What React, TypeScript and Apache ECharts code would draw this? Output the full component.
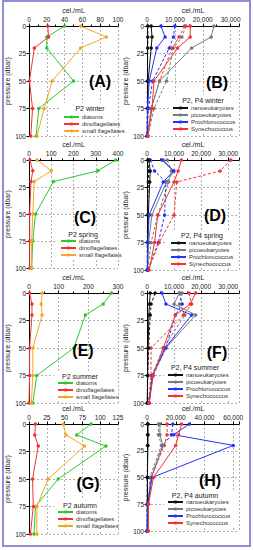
import React, { useEffect, useRef } from 'react';
import * as echarts from 'echarts';

// depth levels (dbar)
const depths = [0, 10, 20, 50, 75, 100];

// ---- Panel A: P2 winter (cel./mL)
const aDiatoms = [40, 20, 20, 50, 11, 8];
const aDinoflagellates = [21, 22, 6, 0.5, 4, 2];
const aSmallFlagellates = [58, 87, 58, 26, 17, 9];
// ---- Panel C: P2 spring
const cDiatoms = [390, 310, 110, 29, 17, 12];
const cDinoflagellates = [4, 17, 9, 3, 3, 3];
const cSmallFlagellates = [36, 100, 23, 17, 12, 12];
// ---- Panel E: P2 summer
const eDiatoms = [278, 250, 190, 151, 26, 13];
const eDinoflagellates = [2, 10, 10, 2, 2, 0];
const eSmallFlagellates = [44, 41, 44, 13, 13, 8];
// ---- Panel G: P2 autumn
const gDiatoms = [87, 67, 108, 41, 9, 7];
const gDinoflagellates = [9, 8, 13, 5, 6, 2];
const gSmallFlagellates = [48, 52, 78, 27, 11, 11];

// ---- Panel B: P2 (solid), P4 (dashed) winter
const bNanoP2 = [1500, 1800, 1500, 400, 200, 100];
const bNanoP4 = [300, 300, 250, 150, 100, 50];
const bPicoP2 = [24000, 23000, 16000, 4500, 1500, 300];
const bPicoP4 = [14000, 12500, 9500, 7000, 2500, 300];
const bProP2 = [5000, 6500, 3500, 800, 200, 100];
const bProP4 = [10000, 9500, 8000, 2000, 500, 100];
const bSynP2 = [15500, 15500, 11000, 2500, 1800, 300];
const bSynP4 = [13500, 11500, 9000, 4500, 1500, 200];
// ---- Panel D: spring
const dNanoP2 = [700, 1200, 1000, 500, 300, 200];
const dNanoP4 = [300, 600, 500, 200, 100, 100];
const dPicoP2 = [6000, 10000, 7200, 1800, 600, 200];
const dPicoP4 = [7500, 9000, 8000, 4000, 1500, 300];
const dProP2 = [5500, 9800, 6000, 800, 300, 100];
const dProP4 = [1200, 2800, 7000, 6500, 4200, 300];
const dSynP2 = [12700, 11500, 10000, 4000, 2800, 800];
const dSynP4 = [31000, 27000, 11000, 10000, 4500, 500];
// ---- Panel F: summer
const fNanoP2 = [1200, 900, 700, 400, 200, 100];
const fNanoP4 = [3000, 1500, 1200, 600, 300, 100];
const fPicoP2 = [12000, 10000, 18000, 7000, 2000, 800];
const fPicoP4 = [13000, 12000, 14000, 6000, 1800, 600];
const fProP2 = [5500, 7000, 16500, 6700, 2000, 800];
const fProP4 = [12000, 13000, 10500, 7000, 2200, 600];
const fSynP2 = [18000, 16000, 10500, 6000, 2300, 800];
const fSynP4 = [15500, 16500, 13500, 1500, 1500, 500];
// ---- Panel H: autumn
const hNanoP2 = [700, 700, 600, 300, 200, 100];
const hNanoP4 = [400, 400, 400, 200, 100, 100];
const hPicoP2 = [9000, 9000, 11000, 3000, 1000, 500];
const hPicoP4 = [8000, 8000, 10000, 2000, 800, 400];
const hProP2 = [29500, 18500, 60000, 3500, 500, 200];
const hProP4 = [18000, 17000, 11000, 3000, 500, 200];
const hSynP2 = [24000, 22000, 20000, 4500, 1000, 1000];
const hSynP4 = [14000, 14000, 12000, 3000, 800, 500];

const leftNames = ['diatoms', 'dinoflagellates', 'small flagellates'];
const rightNames = ['nanoeukaryotes', 'picoeukaryotes', 'Prochlorococcus', 'Synechococcus'];

const GREEN = '#2ec82e';
const RED = '#f43232';
const ORANGE = '#f5a623';
const BLACK = '#111111';
const GREY = '#7a7a7a';
const BLUE = '#2233ff';

const FONT = '"Liberation Sans", Arial, sans-serif';

type LeftPanel = {
  label: string; title: string; max: number; interval: number;
  vals: number[][];
};
type RightPanel = {
  label: string; title: string; max: number; interval: number;
  p2: number[][]; p4: number[][];
};

const leftPanels: LeftPanel[] = [
  { label: '(A)', title: 'P2 winter', max: 100, interval: 20, vals: [aDiatoms, aDinoflagellates, aSmallFlagellates] },
  { label: '(C)', title: 'P2 spring', max: 400, interval: 100, vals: [cDiatoms, cDinoflagellates, cSmallFlagellates] },
  { label: '(E)', title: 'P2 summer', max: 300, interval: 100, vals: [eDiatoms, eDinoflagellates, eSmallFlagellates] },
  { label: '(G)', title: 'P2 autumn', max: 125, interval: 25, vals: [gDiatoms, gDinoflagellates, gSmallFlagellates] },
];
const rightPanels: RightPanel[] = [
  { label: '(B)', title: 'P2, P4 winter', max: 33000, interval: 10000,
    p2: [bNanoP2, bPicoP2, bProP2, bSynP2], p4: [bNanoP4, bPicoP4, bProP4, bSynP4] },
  { label: '(D)', title: 'P2, P4 spring', max: 34000, interval: 10000,
    p2: [dNanoP2, dPicoP2, dProP2, dSynP2], p4: [dNanoP4, dPicoP4, dProP4, dSynP4] },
  { label: '(F)', title: 'P2, P4 summer', max: 34000, interval: 10000,
    p2: [fNanoP2, fPicoP2, fProP2, fSynP2], p4: [fNanoP4, fPicoP4, fProP4, fSynP4] },
  { label: '(H)', title: 'P2, P4 autumn', max: 64000, interval: 20000,
    p2: [hNanoP2, hPicoP2, hProP2, hSynP2], p4: [hNanoP4, hPicoP4, hProP4, hSynP4] },
];

const leftColors = [GREEN, RED, ORANGE];
const rightColors = [BLACK, GREY, BLUE, RED];

// layout
const rowTops = [26, 160, 293, 424];
const rowHeights = [110, 108, 110, 110];
const rightRowHeights = [110, 110, 110, 107];
const LEFT_X = 29, LEFT_W = 89;
const RIGHT_X = 147, RIGHT_W = 92;

const labelPos = [
  [100, 81], [217, 82],
  [85, 217], [215, 215],
  [83, 350], [217, 352],
  [88, 483], [210, 480],
];
// legend: [left, firstItemCenterY, titleCenterX, titleCenterY]
const legendPos = [
  [63, 117, 90, 108], [172, 108, 203, 100],
  [60, 241, 83, 234], [170, 243, 202, 235],
  [57, 383, 80, 376], [167, 375, 195, 367],
  [57, 512, 80, 505], [167, 502, 195, 495],
];

function fmt(interval: number) {
  return (v: number) => (v % interval === 0 ? v.toLocaleString('en-US') : '');
}

function buildOption() {
  const grid: any[] = [];
  const xAxis: any[] = [];
  const yAxis: any[] = [];
  const series: any[] = [];
  const legend: any[] = [];
  const graphic: any[] = [];

  const axisCommonX = (max: number, interval: number, gi: number) => ({
    gridIndex: gi, type: 'value', position: 'top', min: 0, max, interval,
    name: 'cel./mL', nameLocation: 'middle', nameGap: 12,
    nameTextStyle: { fontSize: 7, color: '#222', fontFamily: FONT },
    axisLine: { show: true, onZero: false, lineStyle: { color: '#000', width: 1 } },
    axisTick: { show: true, length: 2.5, lineStyle: { color: '#000' } },
    minorTick: { show: true, splitNumber: 2, length: 1.5, lineStyle: { color: '#000' } },
    axisLabel: { fontSize: 6.5, color: '#222', margin: 3, formatter: fmt(interval), fontFamily: FONT },
    splitLine: { show: true, lineStyle: { color: '#9a9a9a', type: [2, 2], width: 0.8 } },
  });
  const axisCommonY = (gi: number) => ({
    gridIndex: gi, type: 'value', inverse: true, min: 0, max: 100, interval: 25,
    name: 'pressure (dbar)', nameLocation: 'middle', nameGap: 15,
    nameTextStyle: { fontSize: 7, color: '#222', fontFamily: FONT },
    axisLine: { show: true, onZero: false, lineStyle: { color: '#000', width: 1 } },
    axisTick: { show: true, length: 2.5, lineStyle: { color: '#000' } },
    axisLabel: { fontSize: 6.5, color: '#222', margin: 3, fontFamily: FONT },
    splitLine: { show: true, lineStyle: { color: '#9a9a9a', type: [2, 2], width: 0.8 } },
  });

  const addLegend = (idx: number, names: string[], gridRight: number, lastOffset: number) => {
    const [lx, cy, tx, ty] = legendPos[idx];
    graphic.push({
      type: 'rect', z: 1,
      shape: { x: lx - 3, y: ty - 5, width: gridRight - (lx - 3), height: cy + lastOffset + 4 - (ty - 5) },
      style: { fill: '#ffffff' },
    });
    graphic.push({
      type: 'text', z: 10, x: tx, y: ty,
      style: { text: idx % 2 === 0 ? leftPanels[idx >> 1].title : rightPanels[idx >> 1].title,
        fontSize: 7, fontFamily: FONT, fill: '#222',
        align: 'center', verticalAlign: 'middle', textAlign: 'center', textVerticalAlign: 'middle' },
    });
    legend.push({
      data: names, left: lx, top: cy - 3.5, orient: 'vertical', padding: 0,
      itemWidth: 15, itemHeight: 4, itemGap: 0, selectedMode: false,
      textStyle: { fontSize: 6, color: '#333', lineHeight: 7, fontFamily: FONT, padding: [0, 0, 0, -2] },
    });
  };

  let gi = 0;
  for (let r = 0; r < 4; r++) {
    // left panel
    const lp = leftPanels[r];
    grid.push({ left: LEFT_X, top: rowTops[r], width: LEFT_W, height: rowHeights[r] });
    xAxis.push(axisCommonX(lp.max, lp.interval, gi));
    yAxis.push(axisCommonY(gi));
    lp.vals.forEach((vals, k) => {
      series.push({
        type: 'line', name: leftNames[k], xAxisIndex: gi, yAxisIndex: gi,
        data: vals.map((v, i) => [v, depths[i]]),
        symbol: 'circle', symbolSize: 3.5, z: 3,
        lineStyle: { color: leftColors[k], width: 1 },
        itemStyle: { color: leftColors[k] },
      });
    });
    addLegend(r * 2, leftNames, LEFT_X + LEFT_W, 14);
    graphic.push({
      type: 'text', z: 10, x: labelPos[r * 2][0], y: labelPos[r * 2][1],
      style: { text: lp.label, fontSize: 16, fontWeight: 'bold', fontFamily: FONT, fill: '#000',
        align: 'center', verticalAlign: 'middle', textAlign: 'center', textVerticalAlign: 'middle' },
    });
    gi++;

    // right panel
    const rp = rightPanels[r];
    grid.push({ left: RIGHT_X, top: rowTops[r], width: RIGHT_W, height: rightRowHeights[r] });
    xAxis.push(axisCommonX(rp.max, rp.interval, gi));
    yAxis.push(axisCommonY(gi));
    rp.p4.forEach((vals, k) => {
      series.push({
        type: 'line', name: rightNames[k] + ' P4', xAxisIndex: gi, yAxisIndex: gi,
        data: vals.map((v, i) => [v, depths[i]]),
        symbol: 'circle', symbolSize: 3.5, z: 3,
        lineStyle: { color: rightColors[k], width: 1, type: [3, 2] },
        itemStyle: { color: rightColors[k] },
      });
    });
    rp.p2.forEach((vals, k) => {
      series.push({
        type: 'line', name: rightNames[k], xAxisIndex: gi, yAxisIndex: gi,
        data: vals.map((v, i) => [v, depths[i]]),
        symbol: 'circle', symbolSize: 3.5, z: 4,
        lineStyle: { color: rightColors[k], width: 1 },
        itemStyle: { color: rightColors[k] },
      });
    });
    addLegend(r * 2 + 1, rightNames, RIGHT_X + RIGHT_W, 21);
    graphic.push({
      type: 'text', z: 10, x: labelPos[r * 2 + 1][0], y: labelPos[r * 2 + 1][1],
      style: { text: rp.label, fontSize: 16, fontWeight: 'bold', fontFamily: FONT, fill: '#000',
        align: 'center', verticalAlign: 'middle', textAlign: 'center', textVerticalAlign: 'middle' },
    });
    gi++;
  }

  graphic.push({
    type: 'rect', z: 20,
    shape: { x: 3, y: 1, width: 247, height: 545 },
    style: { fill: 'none', stroke: '#8d8dd8', lineWidth: 2 },
  });

  return {
    animation: false,
    backgroundColor: '#ffffff',
    textStyle: { fontFamily: FONT },
    grid, xAxis, yAxis, series, legend, graphic,
  };
}

export default function App() {
  const ref = useRef<HTMLDivElement>(null);
  useEffect(() => {
    if (!ref.current) return;
    const chart = echarts.init(ref.current, undefined, { renderer: 'svg' });
    chart.setOption(buildOption() as any);
    return () => chart.dispose();
  }, []);
  return (
    <div
      ref={ref}
      style={{ position: 'absolute', left: 0, top: 0, width: 253, height: 550 }}
    />
  );
}
